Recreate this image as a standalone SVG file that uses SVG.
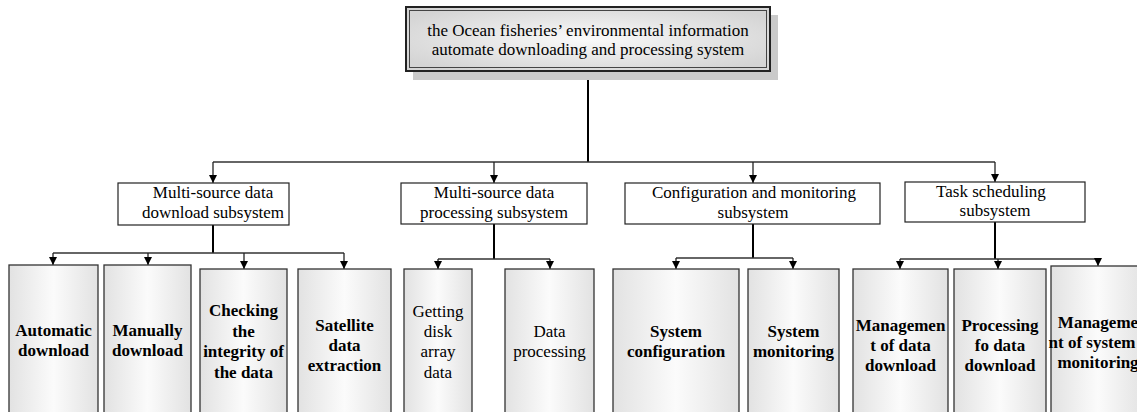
<svg xmlns="http://www.w3.org/2000/svg" width="1137" height="412" viewBox="0 0 1137 412">
<defs>
  <linearGradient id="leafGrad" x1="0" y1="0" x2="1" y2="0">
    <stop offset="0" stop-color="#e2e2e2"/>
    <stop offset="0.5" stop-color="#fbfbfb"/>
    <stop offset="1" stop-color="#e2e2e2"/>
  </linearGradient>
  <radialGradient id="titleGrad" cx="0.5" cy="0.5" r="0.6">
    <stop offset="0" stop-color="#fafafa"/>
    <stop offset="1" stop-color="#d4d4d4"/>
  </radialGradient>
  <marker id="arr" viewBox="0 0 8 8" refX="8" refY="4" markerWidth="8" markerHeight="8" markerUnits="userSpaceOnUse" orient="auto">
    <path d="M0,0 L8,4 L0,8 Z" fill="#000"/>
  </marker>
</defs>
<style>
  text { font-family: "Liberation Serif", "Times New Roman", serif; font-size: 17px; fill: #000; text-anchor: middle; }
  .b { font-weight: bold; }
  .sub { fill: #fff; stroke: #222; stroke-width: 1.2; }
  .leaf { fill: url(#leafGrad); stroke: #333; stroke-width: 1.3; }
  .trunk { fill: none; stroke: #000; stroke-width: 2; }
  .bar { fill: none; stroke: #333; stroke-width: 1.5; }
  .drop { fill: none; stroke: #222; stroke-width: 1.3; marker-end: url(#arr); }
</style>

<g id="connectors">
  <line class="trunk" x1="588" y1="71" x2="588" y2="162"/>
  <line class="bar" x1="213" y1="162" x2="995" y2="162"/>
  <line class="drop" x1="213" y1="162" x2="213" y2="183"/>
  <line class="drop" x1="494" y1="162" x2="494" y2="183"/>
  <line class="drop" x1="753" y1="162" x2="753" y2="183"/>
  <line class="drop" x1="995" y1="162" x2="995" y2="182"/>

  <line class="trunk" x1="213" y1="225" x2="213" y2="253"/>
  <line class="bar" x1="53" y1="253" x2="344" y2="253"/>
  <line class="drop" x1="53" y1="253" x2="53" y2="265"/>
  <line class="drop" x1="148" y1="253" x2="148" y2="265"/>
  <line class="drop" x1="244" y1="253" x2="244" y2="269"/>
  <line class="drop" x1="344" y1="253" x2="344" y2="269"/>

  <line class="trunk" x1="494" y1="224" x2="494" y2="259"/>
  <line class="bar" x1="438" y1="259" x2="550" y2="259"/>
  <line class="drop" x1="438" y1="259" x2="438" y2="269"/>
  <line class="drop" x1="550" y1="259" x2="550" y2="269"/>

  <line class="trunk" x1="753" y1="224" x2="753" y2="258"/>
  <line class="bar" x1="676" y1="258" x2="793" y2="258"/>
  <line class="drop" x1="676" y1="258" x2="676" y2="269"/>
  <line class="drop" x1="793" y1="258" x2="793" y2="269"/>

  <line class="trunk" x1="995" y1="222" x2="995" y2="259"/>
  <line class="bar" x1="900" y1="259" x2="1098" y2="259"/>
  <line class="drop" x1="900" y1="259" x2="900" y2="269"/>
  <line class="drop" x1="998" y1="259" x2="998" y2="269"/>
  <line class="drop" x1="1098" y1="259" x2="1098" y2="266"/>
</g>

<g id="root">
  <rect x="413" y="15" width="365" height="65" fill="#cacaca"/>
  <rect x="406" y="7" width="364" height="64" fill="url(#titleGrad)" stroke="#222" stroke-width="2"/>
  <rect x="409.5" y="10.5" width="357" height="57" fill="none" stroke="#444" stroke-width="1"/>
  <text x="588" y="36">the Ocean fisheries’ environmental information</text>
  <text x="588" y="55">automate downloading and processing system</text>
</g>

<g id="sub1">
  <rect class="sub" x="118" y="183" width="171" height="42"/>
  <text x="213" y="198">Multi-source data</text>
  <text x="213" y="218">download subsystem</text>
</g>
<g id="sub2">
  <rect class="sub" x="401" y="183" width="186" height="41"/>
  <text x="494" y="198">Multi-source data</text>
  <text x="494" y="218">processing subsystem</text>
</g>
<g id="sub3">
  <rect class="sub" x="625" y="183" width="255" height="41"/>
  <text x="754" y="198">Configuration and monitoring</text>
  <text x="753" y="218">subsystem</text>
</g>
<g id="sub4">
  <rect class="sub" x="905" y="182" width="180" height="40"/>
  <text x="991" y="197">Task scheduling</text>
  <text x="995" y="216">subsystem</text>
</g>

<g id="leaf1">
  <rect class="leaf" x="9" y="265" width="89" height="170"/>
  <text class="b" x="53.5" y="336">Automatic</text>
  <text class="b" x="53.5" y="356">download</text>
</g>
<g id="leaf2">
  <rect class="leaf" x="104" y="265" width="87" height="170"/>
  <text class="b" x="147.5" y="336">Manually</text>
  <text class="b" x="147.5" y="356">download</text>
</g>
<g id="leaf3">
  <rect class="leaf" x="200" y="269" width="87" height="170"/>
  <text class="b" x="243.5" y="316">Checking</text>
  <text class="b" x="243.5" y="337">the</text>
  <text class="b" x="243.5" y="357">integrity of</text>
  <text class="b" x="243.5" y="378">the data</text>
</g>
<g id="leaf4">
  <rect class="leaf" x="298" y="269" width="93" height="170"/>
  <text class="b" x="344.5" y="331">Satellite</text>
  <text class="b" x="344.5" y="351">data</text>
  <text class="b" x="344.5" y="371">extraction</text>
</g>
<g id="leaf5">
  <rect class="leaf" x="404" y="269" width="68" height="170"/>
  <text x="438" y="317">Getting</text>
  <text x="438" y="337">disk</text>
  <text x="438" y="357">array</text>
  <text x="438" y="378">data</text>
</g>
<g id="leaf6">
  <rect class="leaf" x="505" y="269" width="89" height="170"/>
  <text x="549.5" y="337">Data</text>
  <text x="549.5" y="357">processing</text>
</g>
<g id="leaf7">
  <rect class="leaf" x="613" y="269" width="126" height="170"/>
  <text class="b" x="676" y="337">System</text>
  <text class="b" x="676" y="357">configuration</text>
</g>
<g id="leaf8">
  <rect class="leaf" x="748" y="269" width="91" height="170"/>
  <text class="b" x="793.5" y="337">System</text>
  <text class="b" x="793.5" y="357">monitoring</text>
</g>
<g id="leaf9">
  <rect class="leaf" x="853" y="269" width="95" height="170"/>
  <text class="b" x="900.5" y="331">Managemen</text>
  <text class="b" x="900.5" y="351">t of data</text>
  <text class="b" x="900.5" y="371">download</text>
</g>
<g id="leaf10">
  <rect class="leaf" x="954" y="269" width="92" height="170"/>
  <text class="b" x="1000" y="331">Processing</text>
  <text class="b" x="1000" y="351">fo data</text>
  <text class="b" x="1000" y="371">download</text>
</g>
<g id="leaf11">
  <rect class="leaf" x="1051" y="266" width="94" height="170"/>
  <text class="b" x="1098" y="328">Manageme</text>
  <text class="b" x="1092" y="348">nt of system</text>
  <text class="b" x="1098" y="368">monitoring</text>
</g>
</svg>
